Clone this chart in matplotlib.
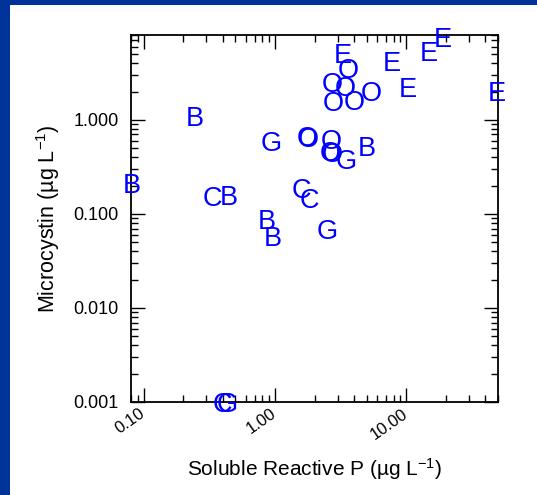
import matplotlib
matplotlib.use("Agg")
import matplotlib.pyplot as plt
from matplotlib.patches import Rectangle
from matplotlib.ticker import LogLocator, FixedLocator, NullFormatter, FuncFormatter
from matplotlib.transforms import offset_copy

plt.rcParams['font.family'] = ['Liberation Sans', 'DejaVu Sans']
plt.rcParams['mathtext.fontset'] = 'custom'
plt.rcParams['mathtext.rm'] = 'Liberation Sans'
plt.rcParams['mathtext.default'] = 'regular'

# site letters, soluble reactive P (ug/L), microcystin (ug/L)
labels = ['E', 'E', 'E', 'E', 'E', 'E',
          'O', 'O', 'O', 'O', 'O', 'O', 'O', 'O', 'O', 'O', 'O',
          'B', 'B', 'B', 'B', 'B', 'B',
          'G', 'G', 'G', 'G',
          'C', 'C', 'C', 'C']
srp = [18.9, 14.9, 7.78, 10.3, 48.6, 3.28,
       3.62, 2.74, 3.42, 5.39, 2.79, 4.0, 1.76, 1.80, 2.66, 2.62, 2.72,
       0.245, 5.0, 0.0816, 0.443, 0.868, 0.957,
       0.93, 3.47, 2.51, 0.43,
       0.335, 1.60, 1.82, 0.394]
mc = [7.58, 5.33, 4.17, 2.21, 2.0, 5.12,
      3.55, 2.49, 2.26, 2.0, 1.59, 1.60, 0.67, 0.65, 0.63, 0.46, 0.45,
      1.10, 0.52, 0.212, 0.159, 0.0878, 0.0583,
      0.588, 0.382, 0.0687, 0.001,
      0.153, 0.1876, 0.147, 0.001]

x_ticks = [0.1, 1.0, 10.0]
y_ticks = [0.001, 0.01, 0.1, 1.0]

navy = '#003399'
blue = '#0000ff'

fig = plt.figure(figsize=(5.37, 4.95), dpi=100, facecolor=navy)
# white panel inside the navy frame
fig.patches.append(Rectangle((10 / 537, 0), 1, 1 - 5 / 495, transform=fig.transFigure,
                             facecolor='white', edgecolor='none', zorder=-1))

ax = fig.add_axes([131 / 537, 93 / 495, 367 / 537, 367 / 495])
ax.set_zorder(2)
ax.set_xscale('log')
ax.set_yscale('log')
ax.set_xlim(0.08, 50)
ax.set_ylim(0.001, 8)

# letters as markers, centred on the cap height
fs = 19.5
trans = offset_copy(ax.transData, fig=fig, x=0, y=-0.36 * fs, units='points')
for lab, x, y in zip(labels, srp, mc):
    ax.text(x, y, lab, color=blue, fontsize=fs, ha='center', va='baseline',
            transform=trans, clip_on=False, zorder=5)

ax.xaxis.set_major_locator(FixedLocator(x_ticks))
ax.yaxis.set_major_locator(FixedLocator(y_ticks))
ax.xaxis.set_minor_locator(LogLocator(base=10, subs=range(2, 10), numticks=20))
ax.yaxis.set_minor_locator(LogLocator(base=10, subs=range(2, 10), numticks=20))
ax.xaxis.set_minor_formatter(NullFormatter())
ax.yaxis.set_minor_formatter(NullFormatter())
ax.xaxis.set_major_formatter(FuncFormatter(lambda v, p: '%.2f' % v))
ax.yaxis.set_major_formatter(FuncFormatter(lambda v, p: '%.3f' % v))

ax.tick_params(which='both', direction='in', top=True, right=True, width=1, color='black')
ax.tick_params(which='major', length=10)
ax.tick_params(which='minor', length=5)
ax.tick_params(axis='y', labelsize=13, pad=9)
ax.tick_params(axis='x', labelsize=12, pad=3)
for lbl in ax.get_xticklabels():
    lbl.set_rotation(35)
    lbl.set_ha('right')
    lbl.set_x(0.0)
# nudge the rotated labels a little right, as in the original
for lbl in ax.get_xticklabels():
    lbl.set_transform(lbl.get_transform() + matplotlib.transforms.ScaledTranslation(3 / 72, 0, fig.dpi_scale_trans))

for s in ax.spines.values():
    s.set_linewidth(1.3)

ax.set_xlabel('Soluble Reactive P (\u00b5g L$^{-1}$)', fontsize=15, labelpad=10)
ax.set_ylabel('Microcystin (\u00b5g L$^{-1}$)', fontsize=15.5, labelpad=8)

fig.savefig('out.png', dpi=100, facecolor=navy)
